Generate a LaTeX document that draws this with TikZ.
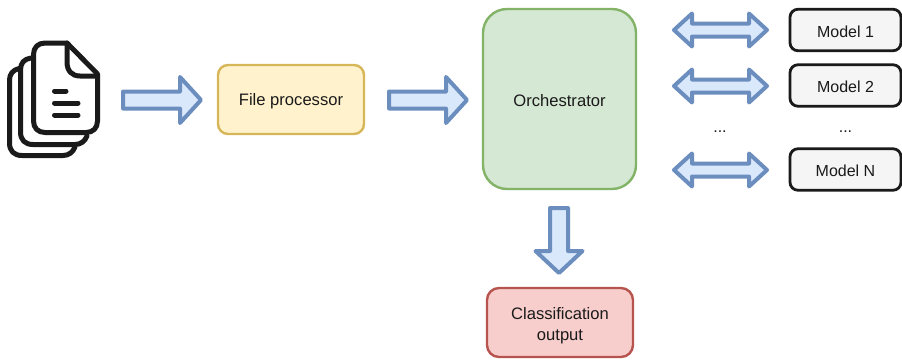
\documentclass[tikz,border=0pt]{standalone}
\usepackage{fontspec}
\setmainfont{Liberation Sans}
\usetikzlibrary{calc}
\definecolor{arrowfill}{HTML}{DAE8FC}
\definecolor{arrowline}{HTML}{6C8EBF}
\definecolor{yfill}{HTML}{FFF2CC}
\definecolor{yline}{HTML}{D6B656}
\definecolor{gfill}{HTML}{D5E8D4}
\definecolor{gline}{HTML}{82B366}
\definecolor{rfill}{HTML}{F8CECC}
\definecolor{rline}{HTML}{B85450}
\definecolor{mfill}{HTML}{F5F5F5}
\definecolor{ink}{HTML}{1A1A1A}
\newcommand\lift{\rule{0pt}{15pt}}
\newcommand\liftmore{\rule{0pt}{18pt}}
\tikzset{
  x=1pt,y=-1pt,
  box/.style={draw,line width=2.4pt,rounded corners=#1,align=center,inner sep=0pt,font=\fontsize{16.6}{20.5}\selectfont,text=ink},
  modelbox/.style={box=8pt,draw=ink,fill=mfill,line width=2.8pt,minimum width=111pt,minimum height=41.5pt,font=\fontsize{16}{20}\selectfont},
  blockarrow/.style={draw=arrowline,fill=arrowfill,line width=4pt,line join=round},
  plain/.style={inner sep=0pt,font=\fontsize{16}{18}\selectfont,text=ink},
  icon/.style={draw=ink,line width=5pt,line cap=round,line join=round}
}
% #1 tail, #2 tip, #3 head length, #4 shaft half width, #5 head half width
\newcommand\singlearrow[5]{\draw[blockarrow]
  ($(#1)!#4pt!90:(#2)$) -- ($(#2)!#3pt!(#1)!#4pt!90:(#2)$) -- ($(#2)!#3pt!(#1)!#5pt!90:(#2)$) -- (#2)
  -- ($(#2)!#3pt!(#1)!#5pt!-90:(#2)$) -- ($(#2)!#3pt!(#1)!#4pt!-90:(#2)$) -- ($(#1)!#4pt!-90:(#2)$) -- cycle;}
% #1 left tip, #2 right tip
\newcommand\doublearrow[2]{\draw[blockarrow]
  (#1) -- ($(#1)!18pt!(#2)!16.5pt!90:(#2)$) -- ($(#1)!18pt!(#2)!6.5pt!90:(#2)$)
  -- ($(#2)!18pt!(#1)!6.5pt!-90:(#1)$) -- ($(#2)!18pt!(#1)!16.5pt!-90:(#1)$) -- (#2)
  -- ($(#2)!18pt!(#1)!16.5pt!90:(#1)$) -- ($(#2)!18pt!(#1)!6.5pt!90:(#1)$)
  -- ($(#1)!18pt!(#2)!6.5pt!-90:(#2)$) -- ($(#1)!18pt!(#2)!16.5pt!-90:(#2)$) -- cycle;}
\begin{document}
\begin{tikzpicture}
\useasboundingbox (0,0) rectangle (902,359);
% document icon
\draw[icon] (67,43) -- (45,43) .. controls (38,43) and (33.5,47.5) .. (33.5,54.5)
  -- (33.5,121) .. controls (33.5,128) and (38,132.5) .. (45,132.5)
  -- (86,132.5) .. controls (93,132.5) and (97.5,128) .. (97.5,121)
  -- (97.5,74) -- cycle;
\draw[icon] (67,43) -- (67,62) .. controls (67,71) and (72,76) .. (80,76) -- (97.5,76);
\draw[icon] (31,58) .. controls (24,59) and (20.5,63) .. (20.5,70) -- (20.5,132)
  .. controls (20.5,140) and (25,144.5) .. (33,144.5) -- (75,144.5) .. controls (81,144.5) and (85,141) .. (87,136);
\draw[icon] (19,68.5) .. controls (13,70) and (9.5,74) .. (9.5,80) -- (9.5,143)
  .. controls (9.5,151) and (14,155.5) .. (22,155.5) -- (63,155.5) .. controls (69,155.5) and (73,152) .. (75,147);
\draw[icon] (54.5,91) -- (66,91) (54.5,103) -- (78,103) (54.5,115) -- (78,115);
% nodes
\node[box=10pt,draw=yline,fill=yfill,minimum width=146pt,minimum height=69pt] (fp) at (291,99.5) {\lift File processor};
\node[box=24pt,draw=gline,fill=gfill,minimum width=153pt,minimum height=180pt] (orch) at (559.5,99) {\lift Orchestrator};
\node[box=12pt,draw=rline,fill=rfill,minimum width=146pt,minimum height=69pt] (out) at (560,322.5) {\liftmore Classification\\output};
\node[modelbox] (m1) at (845.5,30) {\lift Model 1};
\node[modelbox] (m2) at (845.5,85.5) {\lift Model 2};
\node[modelbox] (mn) at (845.5,169.5) {\lift Model N};
\node[plain] (d1) at (720,132) {...};
\node[plain] (d2) at (845.5,132) {...};
% connector ends
\coordinate (a1s) at (123,100); \coordinate (a1e) at (201,100);
\coordinate (a2s) at (389,100); \coordinate (a2e) at (467,100);
\coordinate (a3s) at (559,208); \coordinate (a3e) at (559,273);
\coordinate (b1s) at (674,30);  \coordinate (b1e) at (767,30);
\coordinate (b2s) at (674,86);  \coordinate (b2e) at (767,86);
\coordinate (b3s) at (674,170); \coordinate (b3e) at (767,170);
\singlearrow{a1s}{a1e}{21}{8.5}{23}
\singlearrow{a2s}{a2e}{21}{8.5}{23}
\singlearrow{a3s}{a3e}{22}{9}{23.5}
\doublearrow{b1s}{b1e}
\doublearrow{b2s}{b2e}
\doublearrow{b3s}{b3e}
\end{tikzpicture}
\end{document}
